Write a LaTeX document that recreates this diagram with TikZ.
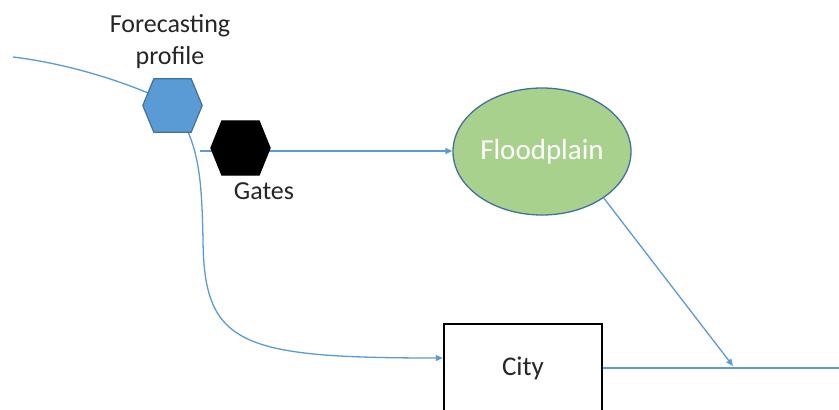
\documentclass[tikz,border=0pt]{standalone}
\usepackage{fontspec}
\setmainfont{Carlito}
\usetikzlibrary{arrows.meta,calc,shapes.geometric}
\definecolor{lineblue}{HTML}{5B9BD5}
\definecolor{hexblue}{HTML}{5B9BD5}
\definecolor{edgeblue}{HTML}{41719C}
\definecolor{leafgreen}{HTML}{A9D18E}
\definecolor{txt}{HTML}{262626}
\newcommand\hexpath[2]{\path[#2] (#1.west) -- ([xshift=11pt]#1.north west) -- ([xshift=-11pt]#1.north east) -- (#1.east) -- ([xshift=-11pt]#1.south east) -- ([xshift=11pt]#1.south west) -- cycle;}
\begin{document}
\begin{tikzpicture}[x=1pt,y=-1pt,
  hexbox/.style={rectangle,draw=none,inner sep=0pt,minimum width=59pt,minimum height=53pt},
  flow/.style={draw=lineblue,line width=1.3pt},
  arr/.style={flow,-{Triangle[length=7pt,width=6pt]}},
  lbl/.style={font=\fontsize{26}{32}\selectfont,text=txt,inner sep=0pt},
  plain/.style={ellipse,draw=edgeblue,line width=1.3pt,fill=leafgreen,minimum width=178pt,minimum height=127pt,inner sep=0pt,text=white,font=\fontsize{29}{34}\selectfont},
  citybox/.style={rectangle,draw=black,line width=2.5pt,minimum width=158pt,minimum height=88pt,inner sep=0pt,text=txt,font=\fontsize{27}{32}\selectfont}
]
\useasboundingbox (0,0) rectangle (839,410);
\clip (0,0) rectangle (839,410);
\fill[white] (0,0) rectangle (839,410);
% nodes
\node[hexbox] (fp) at (172.5,105.5) {};
\node[hexbox,minimum height=54pt] (gt) at (240.5,148) {};
\node[plain] (fl) at (542,151.5) {Floodplain};
\node[citybox] (city) at (523,368) {City};
\coordinate (src) at (13,57);
\coordinate (gin) at (200,151);
\coordinate (join) at (733,366);
\coordinate (sink) at (839,368);
% connectors
\draw[flow] (src) .. controls (55,62) and (105,75) .. ($(fp.west)!0.47!([xshift=11pt]fp.north west)$);
\draw[arr] ([xshift=-14pt]fp.south east) .. controls (200,160) and (202,190) .. (203,240)
   .. controls (204,345) and (240,358) .. ([yshift=10pt]city.west);
\draw[arr] (gin) -- (fl.west |- gin);
\draw[arr] (fl.-37) -- (join);
\draw[flow] (city.east) -- (sink);
% hexagons
\hexpath{fp}{fill=hexblue,draw=edgeblue,line width=1.2pt}
\hexpath{gt}{fill=black,draw=black,line width=1pt}
% labels
\node[lbl,align=center] (fplbl) at (170,42) {Forecasting\\profile};
\node[lbl,anchor=base] (gtlbl) at (264,199) {Gates};
\end{tikzpicture}
\end{document}
